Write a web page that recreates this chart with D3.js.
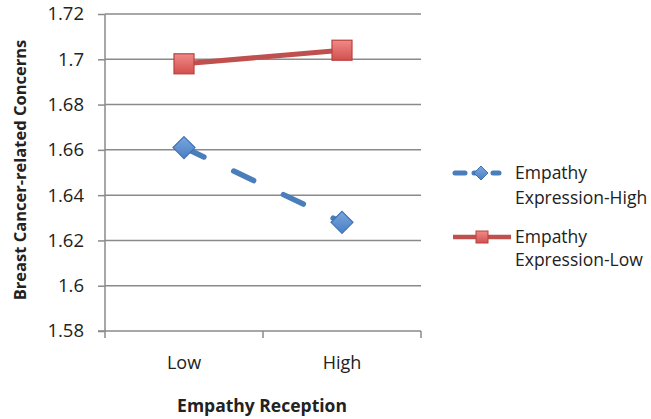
<!DOCTYPE html>
<html>
<head>
<meta charset="utf-8">
<script src="https://cdn.jsdelivr.net/npm/d3@7"></script>
<style>
  html, body { margin: 0; padding: 0; background: #fff; }
  svg { display: block; }
  text { font-family: "Open Sans", Lato, sans-serif; fill: #222; }
</style>
</head>
<body>
<svg id="chart" width="651" height="419"></svg>
<script>
const categories = ["Low", "High"];
const yTicks = [1.58, 1.6, 1.62, 1.64, 1.66, 1.68, 1.7, 1.72];
const yTickLabels = ["1.58", "1.6", "1.62", "1.64", "1.66", "1.68", "1.7", "1.72"];
const seriesNames = ["Empathy Expression-High", "Empathy Expression-Low"];
const expressionHigh = [1.661, 1.628];
const expressionLow = [1.698, 1.704];
const xTitle = "Empathy Reception";
const yTitle = "Breast Cancer-related Concerns";

const svg = d3.select("#chart");
const m = { left: 105, right: 421, top: 14, bottom: 331 };

const defs = svg.append("defs");
const gr = defs.append("linearGradient").attr("id", "gRed").attr("x1", 0).attr("y1", 0).attr("x2", 0).attr("y2", 1);
gr.append("stop").attr("offset", "0%").attr("stop-color", "#f08a88");
gr.append("stop").attr("offset", "100%").attr("stop-color", "#d2504e");
const gb = defs.append("linearGradient").attr("id", "gBlue").attr("x1", 0).attr("y1", 0).attr("x2", 0).attr("y2", 1);
gb.append("stop").attr("offset", "0%").attr("stop-color", "#7aa6de");
gb.append("stop").attr("offset", "100%").attr("stop-color", "#4a7fc4");

const x = d3.scaleBand().domain(categories).range([m.left, m.right]);
const y = d3.scaleLinear().domain([1.58, 1.72]).range([m.bottom, m.top]);

// gridlines
svg.append("g").selectAll("line").data(yTicks.slice(1)).join("line")
  .attr("x1", m.left).attr("x2", m.right)
  .attr("y1", d => y(d)).attr("y2", d => y(d))
  .attr("stroke", "#8a8a8a").attr("stroke-width", 1.5);

// y axis
const yAxis = d3.axisLeft(y).tickValues(yTicks)
  .tickFormat((d, i) => yTickLabels[i]).tickSize(7).tickPadding(14);
const gy = svg.append("g").attr("transform", `translate(${m.left},0)`).call(yAxis);
gy.select(".domain").attr("stroke", "#8a8a8a").attr("stroke-width", 1.5).attr("d", `M-7,${m.bottom}H0V${m.top}`);
gy.selectAll(".tick line").attr("stroke", "#8a8a8a").attr("stroke-width", 1.5);
gy.selectAll(".tick text").style("font-size", "18.5px").style("font-family", "'Open Sans', sans-serif").attr("fill", "#222");

// x axis
const gx = svg.append("g").attr("transform", `translate(0,${m.bottom})`);
gx.append("line").attr("x1", m.left).attr("x2", m.right).attr("y1", 0).attr("y2", 0)
  .attr("stroke", "#8a8a8a").attr("stroke-width", 1.5);
const bTicks = [m.left, x("High"), m.right];
gx.selectAll("line.t").data(bTicks).join("line").attr("class", "t")
  .attr("x1", d => d).attr("x2", d => d).attr("y1", 0).attr("y2", 7)
  .attr("stroke", "#8a8a8a").attr("stroke-width", 1.5);
gx.selectAll("text").data(categories).join("text")
  .attr("x", d => x(d) + x.bandwidth() / 2).attr("y", 38)
  .attr("text-anchor", "middle").style("font-size", "18px").text(d => d);

// titles
svg.append("text").attr("x", (m.left + m.right) / 2 - 1).attr("y", 412)
  .attr("text-anchor", "middle").style("font-size", "17.5px").style("font-weight", "bold").text(xTitle);
svg.append("text").attr("transform", "translate(26,170) rotate(-90)")
  .attr("text-anchor", "middle").style("font-size", "16.5px").style("font-weight", "bold").text(yTitle);

const cx = d => x(d) + x.bandwidth() / 2;
const line = d3.line().x(d => cx(d.c)).y(d => y(d.v));

// red series
const redData = categories.map((c, i) => ({ c, v: expressionLow[i] }));
svg.append("path").datum(redData).attr("d", line)
  .attr("fill", "none").attr("stroke", "#c0504d").attr("stroke-width", 5);
svg.selectAll("rect.rm").data(redData).join("rect").attr("class", "rm")
  .attr("x", d => cx(d.c) - 10).attr("y", d => y(d.v) - 10)
  .attr("width", 20).attr("height", 20)
  .attr("fill", "url(#gRed)").attr("stroke", "#b8413e").attr("stroke-width", 1.2);

// blue series
const blueData = categories.map((c, i) => ({ c, v: expressionHigh[i] }));
svg.append("path").datum(blueData).attr("d", line)
  .attr("fill", "none").attr("stroke", "#4a7ebb").attr("stroke-width", 5.5)
  .attr("stroke-linecap", "round").attr("stroke-dasharray", "22,33");
svg.selectAll("path.bm").data(blueData).join("path").attr("class", "bm")
  .attr("d", d => { const px = cx(d.c), py = y(d.v), r = 11; return `M${px},${py - r}L${px + r},${py}L${px},${py + r}L${px - r},${py}Z`; })
  .attr("fill", "url(#gBlue)").attr("stroke", "#3f72b3").attr("stroke-width", 1.2);

// legend
const lg = svg.append("g");
// blue entry
lg.append("line").attr("x1", 455).attr("x2", 499).attr("y1", 173).attr("y2", 173)
  .attr("stroke", "#4a7ebb").attr("stroke-width", 5).attr("stroke-linecap", "round").attr("stroke-dasharray", "10,9");
lg.append("path").attr("d", "M481,166L488,173L481,180L474,173Z")
  .attr("fill", "url(#gBlue)").attr("stroke", "#3f72b3").attr("stroke-width", 1);
lg.append("text").attr("x", 515).attr("y", 179).style("font-size", "17.5px").text("Empathy");
lg.append("text").attr("x", 515).attr("y", 204).style("font-size", "17.5px").text("Expression-High");
// red entry
lg.append("line").attr("x1", 453).attr("x2", 511).attr("y1", 237).attr("y2", 237)
  .attr("stroke", "#c0504d").attr("stroke-width", 4.5);
lg.append("rect").attr("x", 476).attr("y", 231).attr("width", 12).attr("height", 12)
  .attr("fill", "url(#gRed)").attr("stroke", "#b8413e").attr("stroke-width", 1);
lg.append("text").attr("x", 515).attr("y", 243).style("font-size", "17.5px").text("Empathy");
lg.append("text").attr("x", 515).attr("y", 266).style("font-size", "17.5px").text("Expression-Low");
</script>
</body>
</html>
